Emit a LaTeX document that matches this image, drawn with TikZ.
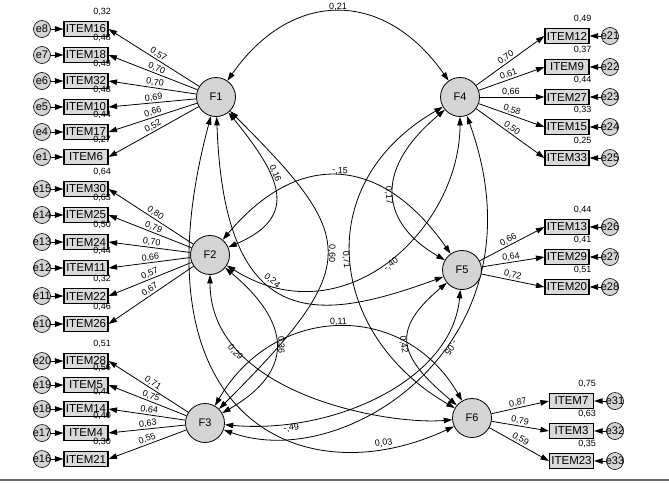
\documentclass[tikz,border=0pt]{standalone}
\usepackage{fontspec}
\setmainfont{Liberation Sans}
\usepackage{tikz}
\usetikzlibrary{arrows.meta,positioning,calc,backgrounds}

\begin{document}
\begin{tikzpicture}[
    x=1pt,y=1pt,
    >={Triangle[length=8.5pt,width=5.5pt]},
    fac/.style={circle, draw=black, line width=0.8pt, fill=black!17,
        minimum size=39pt, inner sep=0pt, font=\fontsize{11}{13}\selectfont},
    item/.style={rectangle, draw=black, line width=1.1pt, fill=black!15,
        minimum width=44pt, minimum height=14.5pt, inner sep=1pt,
        font=\fontsize{11.5}{13}\selectfont},
    err/.style={circle, draw=black, line width=0.6pt, fill=black!17,
        minimum size=17pt, inner sep=0pt},
    etxt/.style={font=\fontsize{11}{13}\selectfont, inner sep=0pt},
    load/.style={draw=black, line width=0.8pt, ->},
    eline/.style={draw=black, line width=0.8pt, ->},
    cov/.style={draw=black, line width=0.8pt, <->},
    ld/.style={font=\fontsize{9}{10}\selectfont, sloped, above, pos=0.48, inner sep=1pt},
    cl/.style={font=\fontsize{9}{10}\selectfont, sloped, allow upside down, inner sep=1pt},
    rsq/.style={font=\fontsize{9}{10}\selectfont, anchor=south east, inner sep=0pt}
]
\useasboundingbox (0,0) rectangle (669,-482);

% ===== column positions =====
\def\xIL{86}    \def\xEL{42}
\def\xIR{567}   \def\xER{610}
\def\xIS{571.5} \def\xES{615}

% ===== factors =====
\node[fac] (F1) at (216,-97) {F1};
\node[fac] (F2) at (210,-255) {F2};
\node[fac] (F3) at (205,-423) {F3};
\node[fac] (F4) at (460,-97) {F4};
\node[fac] (F5) at (462,-270) {F5};
\node[fac] (F6) at (472,-418) {F6};

% ===== F1 items =====
\node[item] (I16) at (\xIL,-29) {ITEM16};
\node[item] (I18) at (\xIL,-55) {ITEM18};
\node[item] (I32) at (\xIL,-81) {ITEM32};
\node[item] (I10) at (\xIL,-107) {ITEM10};
\node[item] (I17) at (\xIL,-132) {ITEM17};
\node[item] (I6)  at (\xIL,-157) {ITEM6};
\node[err, label={[etxt]center:e8}] (e8) at (\xEL,-29) {};
\node[err, label={[etxt]center:e7}] (e7) at (\xEL,-55) {};
\node[err, label={[etxt]center:e6}] (e6) at (\xEL,-81) {};
\node[err, label={[etxt]center:e5}] (e5) at (\xEL,-107) {};
\node[err, label={[etxt]center:e4}] (e4) at (\xEL,-132) {};
\node[err, label={[etxt]center:e1}] (e1) at (\xEL,-157) {};
\draw[load] (F1) -- node[ld] {0,57} (I16.east);
\draw[load] (F1) -- node[ld] {0,70} (I18.east);
\draw[load] (F1) -- node[ld] {0,70} (I32.east);
\draw[load] (F1) -- node[ld] {0,69} (I10.east);
\draw[load] (F1) -- node[ld] {0,66} (I17.east);
\draw[load] (F1) -- node[ld] {0,52} (I6.east);
\draw[eline] (e8) -- (I16);
\draw[eline] (e7) -- (I18);
\draw[eline] (e6) -- (I32);
\draw[eline] (e5) -- (I10);
\draw[eline] (e4) -- (I17);
\draw[eline] (e1) -- (I6);
\node[rsq] (r16) at ([shift={(2.5,5.5)}]I16.north east) {0,32};
\node[rsq] (r18) at ([shift={(2.5,5.5)}]I18.north east) {0,48};
\node[rsq] (r32) at ([shift={(2.5,5.5)}]I32.north east) {0,49};
\node[rsq] (r10) at ([shift={(2.5,5.5)}]I10.north east) {0,48};
\node[rsq] (r17) at ([shift={(2.5,5.5)}]I17.north east) {0,44};
\node[rsq] (r6)  at ([shift={(2.5,5.5)}]I6.north east) {0,27};

% ===== F2 items =====
\node[item] (I30) at (\xIL,-189) {ITEM30};
\node[item] (I25) at (\xIL,-215) {ITEM25};
\node[item] (I24) at (\xIL,-242) {ITEM24};
\node[item] (I11) at (\xIL,-268) {ITEM11};
\node[item] (I22) at (\xIL,-296) {ITEM22};
\node[item] (I26) at (\xIL,-324) {ITEM26};
\node[err, label={[etxt]center:e15}] (e15) at (\xEL,-189) {};
\node[err, label={[etxt]center:e14}] (e14) at (\xEL,-215) {};
\node[err, label={[etxt]center:e13}] (e13) at (\xEL,-242) {};
\node[err, label={[etxt]center:e12}] (e12) at (\xEL,-268) {};
\node[err, label={[etxt]center:e11}] (e11) at (\xEL,-296) {};
\node[err, label={[etxt]center:e10}] (e10) at (\xEL,-324) {};
\draw[load] (F2) -- node[ld] {0,80} (I30.east);
\draw[load] (F2) -- node[ld] {0,79} (I25.east);
\draw[load] (F2) -- node[ld] {0,70} (I24.east);
\draw[load] (F2) -- node[ld] {0,66} (I11.east);
\draw[load] (F2) -- node[ld] {0,57} (I22.east);
\draw[load] (F2) -- node[ld] {0,67} (I26.east);
\draw[eline] (e15) -- (I30);
\draw[eline] (e14) -- (I25);
\draw[eline] (e13) -- (I24);
\draw[eline] (e12) -- (I11);
\draw[eline] (e11) -- (I22);
\draw[eline] (e10) -- (I26);
\node[rsq] (r30) at ([shift={(2.5,5.5)}]I30.north east) {0,64};
\node[rsq] (r25) at ([shift={(2.5,5.5)}]I25.north east) {0,63};
\node[rsq] (r24) at ([shift={(2.5,5.5)}]I24.north east) {0,50};
\node[rsq] (r11) at ([shift={(2.5,5.5)}]I11.north east) {0,44};
\node[rsq] (r22) at ([shift={(2.5,5.5)}]I22.north east) {0,32};
\node[rsq] (r26) at ([shift={(2.5,5.5)}]I26.north east) {0,46};

% ===== F3 items =====
\node[item] (I28) at (\xIL,-361) {ITEM28};
\node[item] (I5)  at (\xIL,-385) {ITEM5};
\node[item] (I14) at (\xIL,-409) {ITEM14};
\node[item] (I4)  at (\xIL,-433) {ITEM4};
\node[item] (I21) at (\xIL,-459) {ITEM21};
\node[err, label={[etxt]center:e20}] (e20) at (\xEL,-361) {};
\node[err, label={[etxt]center:e19}] (e19) at (\xEL,-385) {};
\node[err, label={[etxt]center:e18}] (e18) at (\xEL,-409) {};
\node[err, label={[etxt]center:e17}] (e17) at (\xEL,-433) {};
\node[err, label={[etxt]center:e16}] (e16) at (\xEL,-459) {};
\draw[load] (F3) -- node[ld] {0,71} (I28.east);
\draw[load] (F3) -- node[ld] {0,75} (I5.east);
\draw[load] (F3) -- node[ld] {0,64} (I14.east);
\draw[load] (F3) -- node[ld] {0,63} (I4.east);
\draw[load] (F3) -- node[ld] {0,55} (I21.east);
\draw[eline] (e20) -- (I28);
\draw[eline] (e19) -- (I5);
\draw[eline] (e18) -- (I14);
\draw[eline] (e17) -- (I4);
\draw[eline] (e16) -- (I21);
\node[rsq] (r28) at ([shift={(2.5,5.5)}]I28.north east) {0,51};
\node[rsq] (r5)  at ([shift={(2.5,5.5)}]I5.north east) {0,56};
\node[rsq] (r14) at ([shift={(2.5,5.5)}]I14.north east) {0,41};
\node[rsq] (r4)  at ([shift={(2.5,5.5)}]I4.north east) {0,40};
\node[rsq] (r21) at ([shift={(2.5,5.5)}]I21.north east) {0,30};

% ===== F4 items =====
\node[item] (I12) at (\xIR,-36) {ITEM12};
\node[item] (I9)  at (\xIR,-67) {ITEM9};
\node[item] (I27) at (\xIR,-97) {ITEM27};
\node[item] (I15) at (\xIR,-127) {ITEM15};
\node[item] (I33) at (\xIR,-158) {ITEM33};
\node[err, label={[etxt]center:e21}] (e21) at (\xER,-36) {};
\node[err, label={[etxt]center:e22}] (e22) at (\xER,-67) {};
\node[err, label={[etxt]center:e23}] (e23) at (\xER,-97) {};
\node[err, label={[etxt]center:e24}] (e24) at (\xER,-127) {};
\node[err, label={[etxt]center:e25}] (e25) at (\xER,-158) {};
\draw[load] (F4) -- node[ld] {0,70} (I12.west);
\draw[load] (F4) -- node[ld] {0,61} (I9.west);
\draw[load] (F4) -- node[ld] {0,66} (I27.west);
\draw[load] (F4) -- node[ld] {0,58} (I15.west);
\draw[load] (F4) -- node[ld] {0,50} (I33.west);
\draw[eline] (e21) -- (I12);
\draw[eline] (e22) -- (I9);
\draw[eline] (e23) -- (I27);
\draw[eline] (e24) -- (I15);
\draw[eline] (e25) -- (I33);
\node[rsq] (r12) at ([shift={(2,5)}]I12.north east) {0,49};
\node[rsq] (r9)  at ([shift={(2,5)}]I9.north east) {0,37};
\node[rsq] (r27) at ([shift={(2,5)}]I27.north east) {0,44};
\node[rsq] (r15) at ([shift={(2,5)}]I15.north east) {0,33};
\node[rsq] (r33) at ([shift={(2,5)}]I33.north east) {0,25};

% ===== F5 items =====
\node[item] (I13) at (\xIR,-227) {ITEM13};
\node[item] (I29) at (\xIR,-257) {ITEM29};
\node[item] (I20) at (\xIR,-287) {ITEM20};
\node[err, label={[etxt]center:e26}] (e26) at (\xER,-227) {};
\node[err, label={[etxt]center:e27}] (e27) at (\xER,-257) {};
\node[err, label={[etxt]center:e28}] (e28) at (\xER,-287) {};
\draw[load] (F5) -- node[ld] {0,66} (I13.west);
\draw[load] (F5) -- node[ld] {0,64} (I29.west);
\draw[load] (F5) -- node[ld] {0,72} (I20.west);
\draw[eline] (e26) -- (I13);
\draw[eline] (e27) -- (I29);
\draw[eline] (e28) -- (I20);
\node[rsq] (r13) at ([shift={(2,5)}]I13.north east) {0,44};
\node[rsq] (r29) at ([shift={(2,5)}]I29.north east) {0,41};
\node[rsq] (r20) at ([shift={(2,5)}]I20.north east) {0,51};

% ===== F6 items =====
\node[item] (I7)  at (\xIS,-401) {ITEM7};
\node[item] (I3)  at (\xIS,-431) {ITEM3};
\node[item] (I23) at (\xIS,-461) {ITEM23};
\node[err, label={[etxt]center:e31}] (e31) at (\xES,-401) {};
\node[err, label={[etxt]center:e32}] (e32) at (\xES,-431) {};
\node[err, label={[etxt]center:e33}] (e33) at (\xES,-461) {};
\draw[load] (F6) -- node[ld] {0,87} (I7.west);
\draw[load] (F6) -- node[ld] {0,79} (I3.west);
\draw[load] (F6) -- node[ld] {0,59} (I23.west);
\draw[eline] (e31) -- (I7);
\draw[eline] (e32) -- (I3);
\draw[eline] (e33) -- (I23);
\node[rsq] (r7)  at ([shift={(2,5)}]I7.north east) {0,75};
\node[rsq] (r3)  at ([shift={(2,5)}]I3.north east) {0,63};
\node[rsq] (r23) at ([shift={(2,5)}]I23.north east) {0,35};

% ===== covariances between factors =====
\begin{scope}[on background layer]
\draw[cov] (F1) .. controls +(55:132) and +(125:132) .. node[cl, pos=0.5, above] (k14) {0,21} (F4);
\draw[cov] (F1) .. controls +(-51:101) and +(23:99) .. node[cl, pos=0.38, above] (k12) {0,16} (F2);
\draw[cov] (F1) .. controls +(-45:200) and +(45:225) .. node[cl, pos=0.5, above] (k13) {0,60} (F3);
\draw[cov] (F1) .. controls +(-88:240) and +(-160:150) .. node[cl, pos=0.42, above] (k15) {0,24} (F5);
\draw[cov] (F1) .. controls +(-105:330) and +(-155:190) .. node[cl, pos=0.85, above] (k16) {0,03} (F6);
\draw[cov] (F2) .. controls +(-40:105) and +(30:105) .. node[cl, pos=0.5, above] (k23) {0,36} (F3);
\draw[cov] (F2) .. controls +(-32:160) and +(-90:130) .. node[cl, pos=0.5, below] (k24) {-,40} (F4);
\draw[cov] (F2) .. controls +(50:139) and +(125:139) .. node[cl, pos=0.5, above] (k25) {-,15} (F5);
\draw[cov] (F2) .. controls +(-90:140) and +(185:83) .. node[cl, pos=0.25, below] (k26) {0,29} (F6);
\draw[cov] (F4) .. controls +(-70:260) and +(-20:150) .. node[cl, pos=0.42, above] (k34) {-,05} (F3);
\draw[cov] (F3) .. controls +(-5:130) and +(-95:110) .. node[cl, pos=0.2, below] (k35) {-,49} (F5);
\draw[cov] (F3) .. controls +(60:137) and +(120:137) .. node[cl, pos=0.5, above] (k36) {0,11} (F6);
\draw[cov] (F4) .. controls +(-140:117) and +(150:91) .. node[cl, pos=0.5, below] (k45) {0,17} (F5);
\draw[cov] (F4) .. controls +(-150:175) and +(150:165) .. node[cl, pos=0.5, below] (k46) {0,71} (F6);
\draw[cov] (F5) .. controls +(-140:95) and +(140:95) .. node[cl, pos=0.5, below] (k56) {0,42} (F6);
\end{scope}

% bottom frame line
\draw[draw=black!60, line width=2pt] (0,-480) -- (669,-480);
\end{tikzpicture}
\end{document}
